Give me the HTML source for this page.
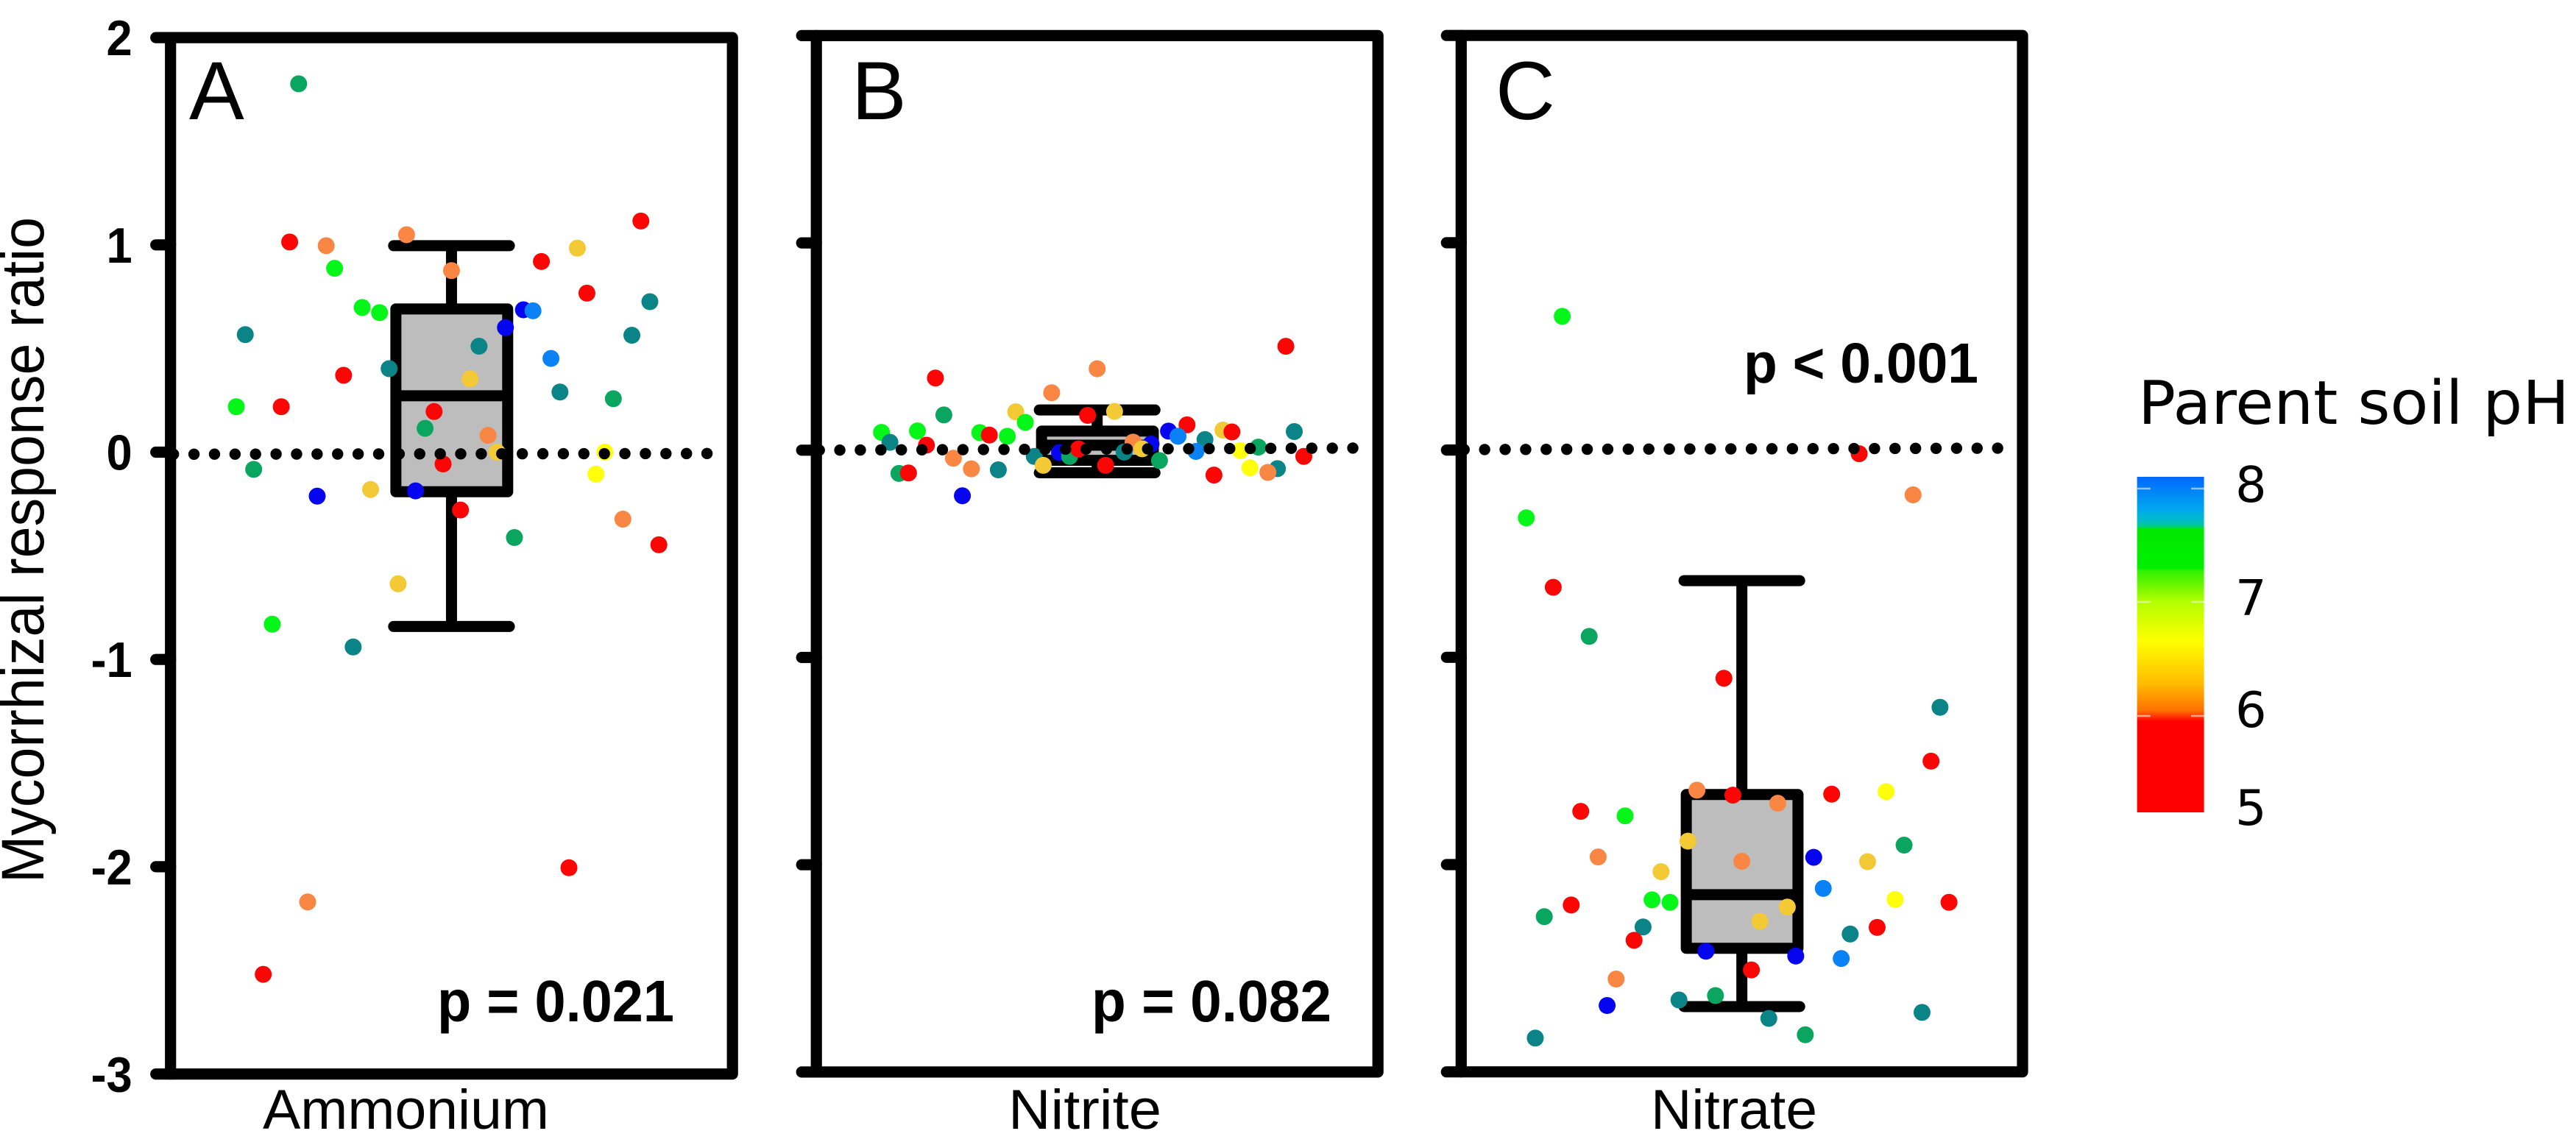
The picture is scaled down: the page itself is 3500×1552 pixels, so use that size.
<!DOCTYPE html>
<html lang="en">
<head>
<meta charset="utf-8">
<title>Mycorrhizal response ratio by nitrogen form</title>
<style>
html,body{margin:0;padding:0;background:#fff;}
svg{display:block;}
.sans{font-family:"Liberation Sans",Arial,sans-serif;fill:#000;}
.dj{font-family:"DejaVu Sans",Verdana,sans-serif;fill:#000;}
</style>
</head>
<body>
<svg id="chart" xmlns="http://www.w3.org/2000/svg" width="3500" height="1552" viewBox="0 0 3500 1552">
<defs>
<linearGradient id="phGradient" x1="0" y1="0" x2="0" y2="1">
<stop offset="0" stop-color="#0068ff"/>
<stop offset=".098" stop-color="#00a8ef"/>
<stop offset=".135" stop-color="#00bfc0"/>
<stop offset=".150" stop-color="#00d070"/>
<stop offset=".155" stop-color="#00e800"/>
<stop offset=".272" stop-color="#00f000"/>
<stop offset=".280" stop-color="#30f000"/>
<stop offset=".373" stop-color="#b4ff00"/>
<stop offset=".491" stop-color="#ffff00"/>
<stop offset=".617" stop-color="#ffbb00"/>
<stop offset=".697" stop-color="#ff7000"/>
<stop offset=".729" stop-color="#ff0000"/>
<stop offset="1" stop-color="#ff0000"/>
</linearGradient>
</defs>
<rect x="0" y="0" width="3500" height="1552" fill="#fff"/>
<g id="plots"></g>

<text class="sans" transform="translate(59,1200) rotate(-90)" font-size="82" textLength="905" lengthAdjust="spacingAndGlyphs">Mycorrhizal response ratio</text>

<text class="sans" x="257" y="162" font-size="112">A</text>
<text class="sans" x="1157" y="162" font-size="112">B</text>
<text class="sans" x="2032" y="162" font-size="112">C</text>

<text class="sans" x="594" y="1388" font-size="80" font-weight="bold" textLength="322" lengthAdjust="spacingAndGlyphs">p = 0.021</text>
<text class="sans" x="1483" y="1388" font-size="80" font-weight="bold" textLength="326" lengthAdjust="spacingAndGlyphs">p = 0.082</text>
<text class="sans" x="2369" y="520" font-size="77" font-weight="bold" textLength="319" lengthAdjust="spacingAndGlyphs">p &lt; 0.001</text>

<text class="sans" x="357" y="1534" font-size="76" textLength="389" lengthAdjust="spacingAndGlyphs">Ammonium</text>
<text class="sans" x="1370" y="1534" font-size="76" textLength="208" lengthAdjust="spacingAndGlyphs">Nitrite</text>
<text class="sans" x="2243" y="1534" font-size="76" textLength="226" lengthAdjust="spacingAndGlyphs">Nitrate</text>

<g>
<text class="dj" x="2905" y="576" font-size="82" textLength="586" lengthAdjust="spacingAndGlyphs">Parent soil pH</text>
<rect x="2903.6" y="648" width="91" height="456" fill="url(#phGradient)"/>
<g id="legendTicks"></g>
</g>
</svg>

<script>
// ---- Data ----
const yTickValues = [2, 1, 0, -1, -2, -3];
const yTickLabels = ['2', '1', '0', '-1', '-2', '-3'];

const legendValues = [8, 7, 6, 5];

// jitter: horizontal position of each point as a share of panel width
const ammoniumJitter = [.228,.420,.212,.277,.292,.500,.660,.724,.837,.741,.853,.341,.372,.628,.645,.596,.133,.821,.549,.677,.389,.308,.533,.693,.788,.117,.197,.469,.453,.565,.581,.773,.485,.148,.757,.356,.261,.436,.516,.805,.612,.869,.405,.181,.325,.709,.244,.165];
const ammoniumResponse = [1.777,1.049,1.014,.996,.887,.876,.920,.984,1.115,.767,.726,.698,.673,.687,.682,.601,.567,.564,.511,.452,.403,.371,.353,.290,.258,.219,.219,.196,.115,.081,0,0,-.057,-.083,-.106,-.180,-.212,-.187,-.279,-.323,-.412,-.447,-.635,-.830,-.940,-2.005,-2.170,-2.519];
const ammoniumPH = [7.5,5.9,5.5,5.9,7.2,5.9,5.5,6.2,5.5,5.5,7.7,7.2,7.2,8.1,7.9,8.1,7.7,7.7,7.7,7.9,7.7,5.5,6.2,7.7,7.5,7.2,5.5,5.5,7.5,5.9,6.2,6.6,5.5,7.5,6.6,6.2,8.1,8.1,5.5,5.9,7.5,5.5,6.2,7.2,7.7,5.5,5.9,5.5];
const ammoniumBox = [-.841, -.191, .272, .691, .996]; // low whisker, Q1, median, Q3, high whisker

const nitriteJitter = [.836,.500,.212,.419,.355,.227,.483,.531,.372,.116,.180,.291,.308,.340,.660,.627,.644,.692,.724,.740,.851,.131,.196,.564,.596,.548,.580,.433,.451,.467,.676,.755,.772,.787,.244,.388,.276,.324,.404,.515,.611,.147,.164,.868,.821,.804,.708,.260];
const nitriteResponse = [.501,.393,.348,.277,.185,.170,.168,.187,.134,.086,.093,.085,.073,.067,.122,.092,.067,.051,.097,.088,.090,.038,.024,.039,.030,-.009,.007,-.012,-.030,.006,-.006,-.002,-.085,.015,-.039,-.030,-.090,-.095,-.073,-.073,-.050,-.112,-.110,-.030,-.089,-.107,-.120,-.220];
const nitritePH = [5.5,5.9,5.5,5.9,6.2,7.5,5.5,6.2,7.2,7.2,7.2,7.2,5.5,7.2,5.5,8.1,7.9,7.7,6.2,5.5,7.7,7.7,5.5,5.9,8.1,7.7,6.2,8.1,7.5,5.5,7.9,6.6,6.6,7.5,5.9,7.7,5.9,7.7,6.2,5.5,7.5,7.5,5.5,5.5,7.7,5.9,5.5,8.1];
const nitriteBox = [-.109, -.049, .024, .092, .194];

const nitrateJitter = [.180,.709,.805,.116,.164,.228,.468,.853,.837,.757,.420,.484,.564,.660,.213,.292,.789,.404,.244,.628,.500,.724,.356,.645,.773,.340,.372,.869,.196,.581,.148,.532,.324,.741,.693,.308,.436,.596,.677,.517,.276,.453,.388,.260,.821,.548,.613,.132];
const nitrateResponse = [.645,-.018,-.216,-.327,-.662,-.899,-1.101,-1.241,-1.501,-1.648,-1.641,-1.665,-1.704,-1.660,-1.743,-1.765,-1.906,-1.887,-1.963,-1.965,-1.984,-1.986,-2.034,-2.115,-2.168,-2.170,-2.182,-2.182,-2.195,-2.205,-2.251,-2.274,-2.301,-2.303,-2.335,-2.365,-2.418,-2.441,-2.453,-2.508,-2.552,-2.632,-2.653,-2.680,-2.713,-2.742,-2.821,-2.837];
const nitratePH = [7.2,5.5,5.9,7.2,5.5,7.5,5.5,7.7,5.5,6.6,5.9,5.5,5.9,5.5,5.5,7.2,7.5,6.2,5.9,8.1,5.9,6.2,6.2,7.9,6.6,7.2,7.2,5.5,5.5,6.2,7.5,6.2,7.7,5.5,7.7,5.5,8.1,8.1,7.9,5.5,5.9,7.5,7.7,8.1,7.7,7.7,7.5,7.7];
const nitrateBox = [-2.685, -2.404, -2.145, -1.662, -.630];

// ---- Rendering ----
const NS = 'http://www.w3.org/2000/svg';
const plots = document.getElementById('plots');

function phColor(ph) {
  if (ph < 5.8) return '#fb0505';
  if (ph < 6.1) return '#fa8644';
  if (ph < 6.4) return '#f3c935';
  if (ph < 7.0) return '#ffff0a';
  if (ph < 7.4) return '#05f71a';
  if (ph < 7.6) return '#0aa65f';
  if (ph < 7.8) return '#0a8486';
  if (ph < 8.0) return '#0a82f5';
  return '#0505f0';
}

function makeLine(parent, x1, y1, x2, y2, width) {
  const el = document.createElementNS(NS, 'line');
  el.setAttribute('x1', x1);
  el.setAttribute('y1', y1);
  el.setAttribute('x2', x2);
  el.setAttribute('y2', y2);
  el.setAttribute('stroke', '#000');
  el.setAttribute('stroke-width', width);
  el.setAttribute('stroke-linecap', 'round');
  parent.appendChild(el);
  return el;
}

function drawPanel(cfg) {
  const g = document.createElementNS(NS, 'g');
  
  
  plots.appendChild(g);

  const x = f => cfg.left + f * (cfg.right - cfg.left);
  const y = v => cfg.y0 - v * 281.7;

  // box and whiskers
  const [lo, q1, med, q3, hi] = cfg.box;
  const stem = makeLine(g, x(.5), y(hi), x(.5), y(lo), 15);
  stem.setAttribute('stroke-linecap', 'butt');
  
  
  const capHi = makeLine(g, x(.397), y(hi), x(.603), y(hi), 15);
  
  
  const capLo = makeLine(g, x(.397), y(lo), x(.603), y(lo), 15);
  
  

  const box = document.createElementNS(NS, 'rect');
  box.setAttribute('x', x(.401));
  box.setAttribute('y', y(q3));
  box.setAttribute('width', x(.6) - x(.401));
  box.setAttribute('height', y(q1) - y(q3));
  box.setAttribute('fill', '#bdbdbd');
  box.setAttribute('stroke', '#000');
  box.setAttribute('stroke-width', 15);
  box.setAttribute('stroke-linejoin', 'round');
  
  
  g.appendChild(box);

  const median = makeLine(g, x(.401), y(med), x(.6), y(med), 15);
  median.setAttribute('stroke-linecap', 'butt');
  
  

  // points
  cfg.jitter.forEach((j, i) => {
    const c = document.createElementNS(NS, 'circle');
    c.setAttribute('cx', x(j));
    c.setAttribute('cy', y(cfg.response[i]));
    c.setAttribute('r', 11.5);
    c.setAttribute('fill', phColor(cfg.ph[i]));
    
    
    g.appendChild(c);
  });

  // zero reference line
  const zero = makeLine(g, cfg.left + 4, y(0) + cfg.tiltL, cfg.right - 7, y(0) + cfg.tiltR, 15.4);
  zero.setAttribute('stroke-dasharray', '0 27.88');
  
  

  // frame
  const frame = document.createElementNS(NS, 'rect');
  frame.setAttribute('x', cfg.left);
  frame.setAttribute('y', y(2));
  frame.setAttribute('width', cfg.right - cfg.left);
  frame.setAttribute('height', y(-3) - y(2));
  frame.setAttribute('fill', 'none');
  frame.setAttribute('stroke', '#000');
  frame.setAttribute('stroke-width', 15.2);
  frame.setAttribute('stroke-linejoin', 'round');
  
  
  g.appendChild(frame);

  // ticks
  yTickValues.forEach((v, i) => {
    const t = makeLine(g, cfg.left - 20, y(v), cfg.left, y(v), 15.2);
    
    
    if (cfg.showLabels) {
      const lab = document.createElementNS(NS, 'text');
      lab.setAttribute('class', 'sans');
      lab.setAttribute('transform', 'translate(' + (cfg.left - 52) + ',' + (y(v) + 24) + ') scale(.93,1)');
      lab.setAttribute('text-anchor', 'end');
      lab.setAttribute('font-size', 68);
      lab.setAttribute('font-weight', 'bold');
      
      
      lab.textContent = yTickLabels[i];
      g.appendChild(lab);
    }
  });
}

drawPanel({name: 'ammonium', left: 231.7, right: 995.2, y0: 614.5, tiltL: 2.8, tiltR: 1.8, showLabels: true,
  jitter: ammoniumJitter, response: ammoniumResponse, ph: ammoniumPH, box: ammoniumBox});
drawPanel({name: 'nitrite', left: 1109.2, right: 1872.2, y0: 611.8, tiltL: 0, tiltR: -3, showLabels: false,
  jitter: nitriteJitter, response: nitriteResponse, ph: nitritePH, box: nitriteBox});
drawPanel({name: 'nitrate', left: 1985.3, right: 2748, y0: 611.6, tiltL: -0.6, tiltR: -2.6, showLabels: false,
  jitter: nitrateJitter, response: nitrateResponse, ph: nitratePH, box: nitrateBox});

// legend ticks and labels, placed on a pH axis
const legendTicks = document.getElementById('legendTicks');
const legendY = ph => ph >= 7 ? 818 - (ph - 7) * 154 : ph >= 6 ? 818 - (ph - 7) * 155 : 973 - (ph - 6) * 133;
legendValues.forEach(ph => {
  const yc = legendY(ph);
  if (ph > 5) {
    const l = document.createElementNS(NS, 'line');
    l.setAttribute('x1', 2904);
    l.setAttribute('x2', 2922);
    l.setAttribute('y1', yc - 0);
    l.setAttribute('y2', yc - 0);
    l.setAttribute('stroke', '#fff');
    l.setAttribute('stroke-opacity', '.55');
    l.setAttribute('stroke-width', 2.5);
    
    
    legendTicks.appendChild(l);
    const r = document.createElementNS(NS, 'line');
    r.setAttribute('x1', 2977);
    r.setAttribute('x2', 2995);
    r.setAttribute('y1', yc - 0);
    r.setAttribute('y2', yc - 0);
    r.setAttribute('stroke', '#fff');
    r.setAttribute('stroke-opacity', '.55');
    r.setAttribute('stroke-width', 2.5);
    
    
    legendTicks.appendChild(r);
  }
  const t = document.createElementNS(NS, 'text');
  t.setAttribute('class', 'dj');
  t.setAttribute('x', 3037);
  t.setAttribute('y', (ph === 8 ? 682 : ph === 7 ? 836 : ph === 6 ? 988 : 1121));
  t.setAttribute('font-size', 67);
  
  
  t.textContent = String(ph);
  legendTicks.appendChild(t);
});
</script>
</body>
</html>
